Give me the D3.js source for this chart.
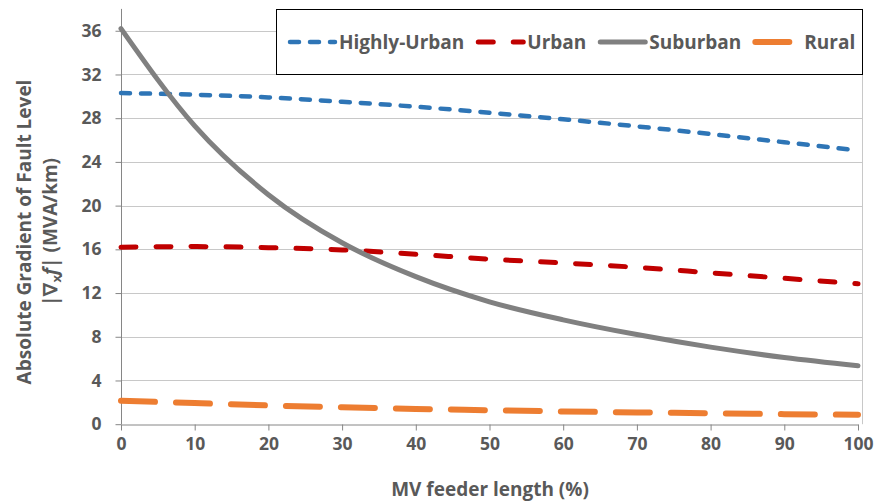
<!DOCTYPE html>
<html>
<head>
<meta charset="utf-8">
<script src="https://d3js.org/d3.v7.min.js"></script>
<style>
  body { margin: 0; background: #fff; }
  text { font-family: "Open Sans", Lato, sans-serif; font-weight: bold; fill: #595959; }
</style>
</head>
<body>
<div id="chart"></div>
<script>
// data
let xSteps = [0, 10, 20, 30, 40, 50, 60, 70, 80, 90, 100];
let highlyUrban = [30.3, 30.15, 29.9, 29.5, 29.05, 28.5, 27.9, 27.25, 26.55, 25.8, 25.05];
let urban = [16.2, 16.25, 16.15, 15.95, 15.55, 15.1, 14.75, 14.35, 13.85, 13.35, 12.85];
let suburban = [36.2, 27.3, 21.0, 16.6, 13.5, 11.2, 9.55, 8.2, 7.05, 6.1, 5.35];
let rural = [2.15, 1.93, 1.72, 1.55, 1.4, 1.28, 1.17, 1.08, 1.0, 0.92, 0.86];
let seriesNames = ["Highly-Urban", "Urban", "Suburban", "Rural"];
let xTicks = [0, 10, 20, 30, 40, 50, 60, 70, 80, 90, 100];
let yTicks = [0, 4, 8, 12, 16, 20, 24, 28, 32, 36];

let width = 877;
let height = 501;

let styles = {
    "Highly-Urban": { color: "#2E75B6", width: 4.5, dash: "9 11" },
    "Urban":        { color: "#C00000", width: 5, dash: "15 20" },
    "Suburban":     { color: "#808080", width: 5, dash: null },
    "Rural":        { color: "#ED7D31", width: 6, dash: "34 21" }
};

let seriesValues = [highlyUrban, urban, suburban, rural];

let svg = d3.select("#chart").append("svg")
    .attr("width", width)
    .attr("height", height);

let x = d3.scaleLinear().domain([0, 100]).range([121, 858]);
let y = d3.scaleLinear().domain([0, 38]).range([424.2, 8.9]);

// gridlines
svg.append("g")
    .selectAll("line")
    .data(yTicks.filter(d => d > 0))
    .enter()
    .append("line")
    .attr("x1", x(0)).attr("x2", 862)
    .attr("y1", d => Math.round(y(d)) + 0.5)
    .attr("y2", d => Math.round(y(d)) + 0.5)
    .attr("stroke", "#c8c8c8")
    .attr("stroke-width", 1);

// right border of plot area
svg.append("line")
    .attr("x1", 862.5).attr("x2", 862.5)
    .attr("y1", y(38)).attr("y2", y(0))
    .attr("stroke", "#c8c8c8");

// axes
let xAxis = svg.append("g")
    .attr("transform", "translate(0," + (Math.round(y(0)) + 0.5) + ")")
    .call(d3.axisBottom(x).tickValues(xTicks).tickSize(6).tickSizeOuter(0).tickPadding(7));

let yAxis = svg.append("g")
    .attr("transform", "translate(" + (Math.round(x(0)) + 0.5) + ",0)")
    .call(d3.axisLeft(y).tickValues(yTicks).tickSize(6).tickSizeOuter(0).tickPadding(14));

[xAxis, yAxis].forEach(ax => {
    ax.select(".domain").attr("stroke", "#868686");
    ax.selectAll(".tick line").attr("stroke", "#868686");
    ax.selectAll(".tick text")
        .style("font-family", "'Open Sans', sans-serif")
        .style("font-weight", "bold")
        .style("font-size", "17.5px")
        .attr("fill", "#595959");
});
yAxis.select(".domain").attr("d", "M0," + y(38) + "V" + y(0));

// lines
let line = d3.line()
    .x((d, i) => x(xSteps[i]))
    .y(d => y(d))
    .curve(d3.curveMonotoneX);

svg.append("g")
    .selectAll("path")
    .data(seriesValues)
    .enter()
    .append("path")
    .attr("d", d => line(d))
    .attr("fill", "none")
    .attr("stroke", (d, i) => styles[seriesNames[i]].color)
    .attr("stroke-width", (d, i) => styles[seriesNames[i]].width)
    .attr("stroke-dasharray", (d, i) => styles[seriesNames[i]].dash)
    .attr("stroke-linecap", "round")
    .attr("stroke-linejoin", "round");

// legend
let legend = svg.append("g");
legend.append("rect")
    .attr("x", 276.5).attr("y", 9.5)
    .attr("width", 586).attr("height", 65)
    .attr("fill", "#fff")
    .attr("stroke", "#000")
    .attr("stroke-width", 1);

let lx = 290;
seriesNames.forEach(name => {
    let st = styles[name];
    legend.append("line")
        .attr("x1", lx).attr("x2", lx + 45)
        .attr("y1", 42).attr("y2", 42)
        .attr("stroke", st.color)
        .attr("stroke-width", st.width)
        .attr("stroke-dasharray", st.dash)
        .attr("stroke-linecap", "round");
    let t = legend.append("text")
        .attr("x", lx + 49).attr("y", 48.5)
        .style("font-size", "19px")
        .text(name);
    lx += 49 + t.node().getComputedTextLength() + 14;
});

// axis titles
svg.append("text")
    .attr("x", 490).attr("y", 496)
    .attr("text-anchor", "middle")
    .style("font-size", "19px")
    .text("MV feeder length (%)");

let yTitle = svg.append("text")
    .attr("transform", "translate(0,232) rotate(-90)")
    .attr("text-anchor", "middle")
    .style("font-size", "19px");

yTitle.append("tspan").attr("x", 0).attr("y", 31).text("Absolute Gradient of Fault Level");
let l2 = yTitle.append("tspan").attr("x", 0).attr("y", 57);
l2.text("|\u2207");
yTitle.append("tspan").attr("dy", 4).style("font-size", "13px").text("x");
yTitle.append("tspan").attr("dy", -4).style("font-style", "italic").text("f");
yTitle.append("tspan").text("| (MVA/km)");
</script>
</body>
</html>
